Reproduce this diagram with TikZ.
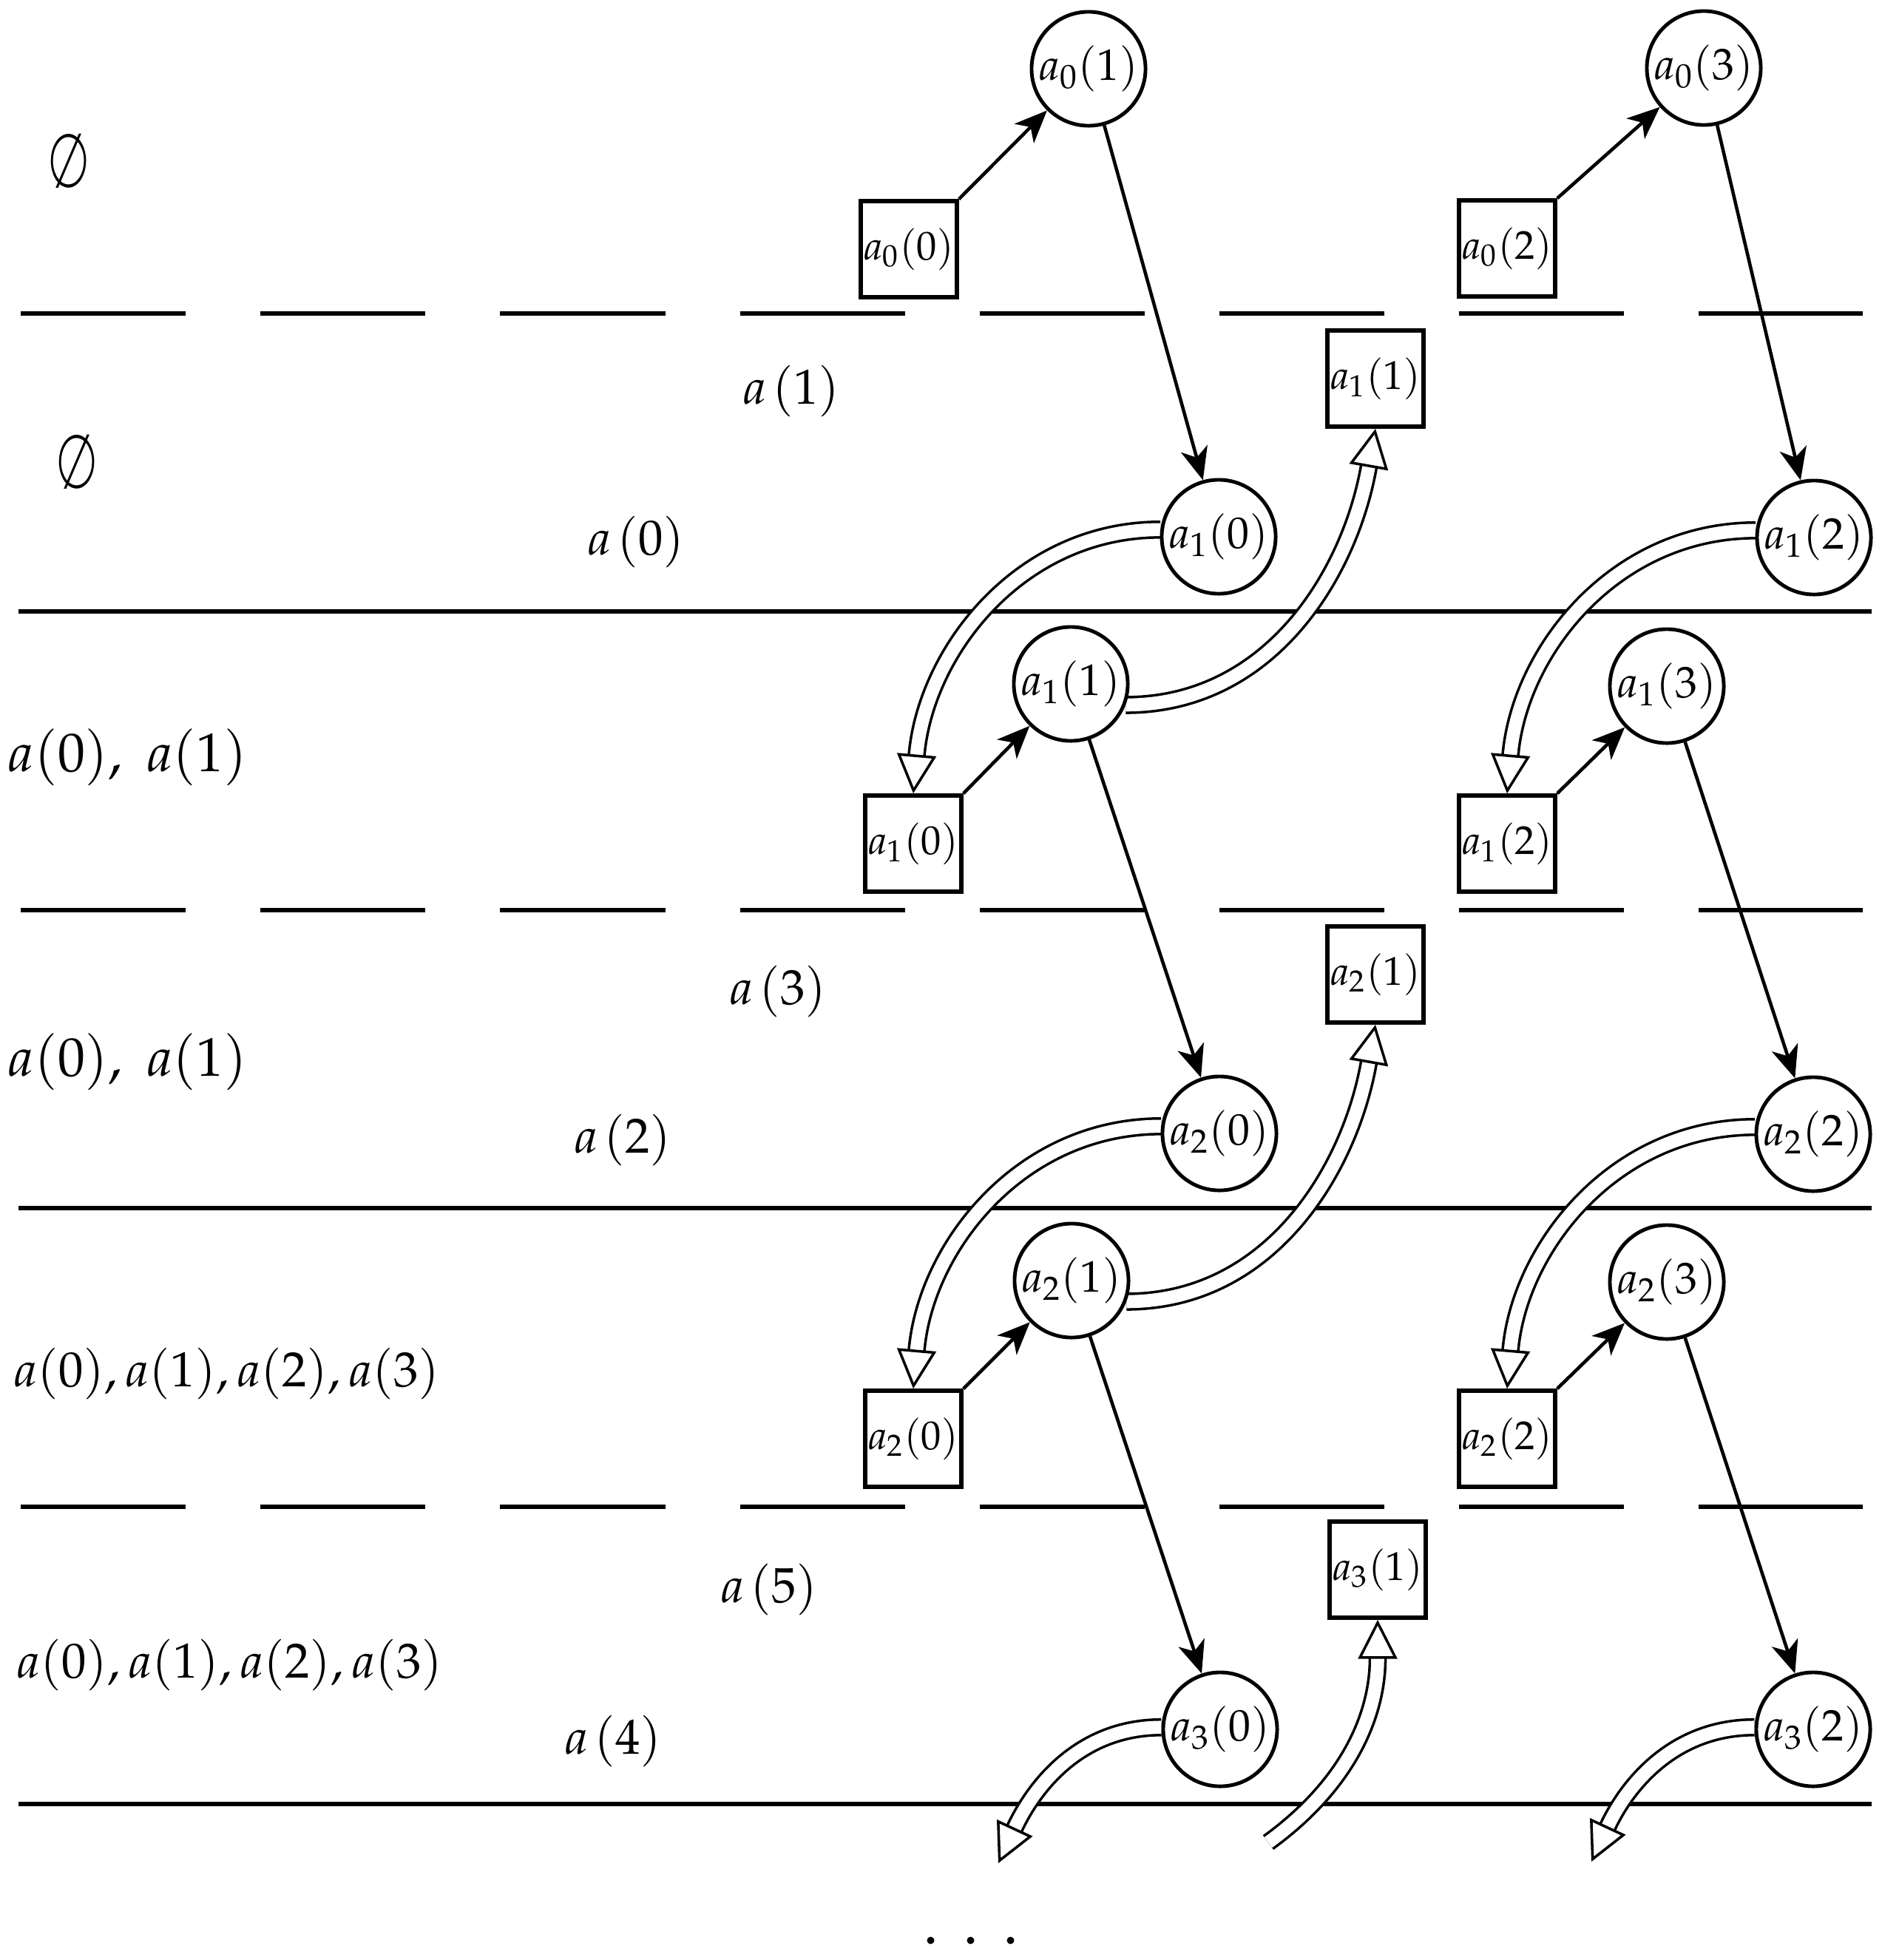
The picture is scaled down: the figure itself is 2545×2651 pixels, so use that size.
\documentclass[tikz,border=0pt]{standalone}
\usepackage{mathpazo}
\usetikzlibrary{arrows.meta,backgrounds}
\tikzset{
  cnode/.style={circle,draw,line width=1.4pt,fill=white,minimum size=1.54cm,inner sep=0pt,font=\fontsize{17}{19}\selectfont},
  bnode/.style={rectangle,draw,line width=1.6pt,fill=white,minimum size=1.30cm,inner sep=0pt,font=\fontsize{15.5}{18}\selectfont},
  lbl/.style={inner sep=0pt,font=\fontsize{19}{22}\selectfont},
  biglbl/.style={inner sep=0pt,anchor=west,font=\fontsize{21}{25}\selectfont},
  rowlbl/.style={inner sep=0pt,anchor=west,font=\fontsize{19}{23}\selectfont},
  emptylbl/.style={inner sep=0pt,font=\fontsize{22}{26}\selectfont},
  thinarr/.style={line width=1.3pt,-{Stealth[length=12.5pt,width=10.5pt,inset=3.5pt]}},
  dblarr/.style={double,double distance=5pt,line width=1pt,-{Triangle[length=15pt,width=15pt,fill=white,line width=1pt]}},
  sepline/.style={line width=1.6pt},
  dashline/.style={line width=1.5pt,dash pattern=on 2.23cm off 1.01cm},
}
\begin{document}
\begin{tikzpicture}[x=0.01cm,y=-0.01cm]
\useasboundingbox (0,0) rectangle (2545,2651);
% left labels
\node[emptylbl] (e1) at (93,218) {\scalebox{0.85}[1.3]{$\emptyset$}};
\node[emptylbl] (e2) at (104,625) {\scalebox{0.85}[1.3]{$\emptyset$}};
\node[biglbl] (l3) at (10,1024) {$a(0),\;a(1)$};
\node[biglbl] (l4) at (10,1436) {$a(0),\;a(1)$};
\node[rowlbl] (l5) at (18,1858) {$a(0),a(1),a(2),a(3)$};
\node[rowlbl] (l6) at (22,2252) {$a(0),a(1),a(2),a(3)$};
% middle labels
\node[lbl] (m1) at (1070,529) {$a\mkern2mu(1)$};
\node[lbl] (m0) at (860,733) {$a\mkern2mu(0)$};
\node[lbl] (m3) at (1052,1341) {$a\mkern2mu(3)$};
\node[lbl] (m2) at (842,1542) {$a\mkern2mu(2)$};
\node[lbl] (m5) at (1040,2150) {$a\mkern2mu(5)$};
\node[lbl] (m4) at (829,2355) {$a\mkern2mu(4)$};
% nodes
\node[cnode] (c01) at (1472,93) {$a_0(1)$};
\node[cnode] (c03) at (2304,92) {$a_0(3)$};
\node[bnode] (b00) at (1229,337) {$a_0(0)$};
\node[bnode] (b02) at (2038,336) {$a_0(2)$};
\node[bnode] (b11) at (1860,512) {$a_1(1)$};
\node[cnode] (c10) at (1648,726) {$a_1(0)$};
\node[cnode] (c12) at (2453,727) {$a_1(2)$};
\node[cnode] (c11) at (1448,925) {$a_1(1)$};
\node[cnode] (c13) at (2254,928) {$a_1(3)$};
\node[bnode] (b10) at (1235,1141) {$a_1(0)$};
\node[bnode] (b12) at (2038,1141) {$a_1(2)$};
\node[bnode] (b21) at (1860,1318) {$a_2(1)$};
\node[cnode] (c20) at (1649,1533) {$a_2(0)$};
\node[cnode] (c22) at (2452,1534) {$a_2(2)$};
\node[cnode] (c21) at (1449,1732) {$a_2(1)$};
\node[cnode] (c23) at (2254,1734) {$a_2(3)$};
\node[bnode] (b20) at (1235,1946) {$a_2(0)$};
\node[bnode] (b22) at (2038,1946) {$a_2(2)$};
\node[bnode] (b31) at (1863,2123) {$a_3(1)$};
\node[cnode] (c30) at (1650,2339) {$a_3(0)$};
\node[cnode] (c32) at (2452,2339) {$a_3(2)$};
\node[inner sep=0pt,anchor=base,font=\fontsize{24}{26}\selectfont] (dots) at (1313,2629) {$.\mkern7mu.\mkern7mu.$};
\coordinate (e30) at (1350,2520);
\coordinate (s31) at (1715,2492);
\coordinate (e32) at (2152,2518);
\begin{scope}[on background layer]
  \foreach \yy in {827,1634,2440} \draw[sepline] (25,\yy) -- (2531,\yy);
  \foreach \yy in {424,1231,2038} \draw[dashline] (28,\yy) -- (2519,\yy);
  \draw[thinarr] (b00.north east) -- (c01);
  \draw[thinarr] (c01) -- (c10);
  \draw[thinarr] (b02.north east) -- (c03);
  \draw[thinarr] (c03) -- (c12);
  \draw[thinarr] (b10.north east) -- (c11);
  \draw[thinarr] (c11) -- (c20);
  \draw[thinarr] (b12.north east) -- (c13);
  \draw[thinarr] (c13) -- (c22);
  \draw[thinarr] (b20.north east) -- (c21);
  \draw[thinarr] (c21) -- (c30);
  \draw[thinarr] (b22.north east) -- (c23);
  \draw[thinarr] (c23) -- (c32);
  \draw[dblarr] (c10.173) to[out=180,in=85] (b10.north);
  \draw[dblarr] (c11.-21) to[out=0,in=-100] (b11.south);
  \draw[dblarr] (c12.173) to[out=180,in=85] (b12.north);
  \draw[dblarr] (c20.173) to[out=180,in=85] (b20.north);
  \draw[dblarr] (c21.-21) to[out=0,in=-100] (b21.south);
  \draw[dblarr] (c22.173) to[out=180,in=85] (b22.north);
  \draw[dblarr] (c30.178) to[out=180,in=65] (e30);
  \draw[dblarr] (s31) to[out=36,in=-90] (b31.south);
  \draw[dblarr] (c32.178) to[out=180,in=65] (e32);
\end{scope}
\end{tikzpicture}
\end{document}
